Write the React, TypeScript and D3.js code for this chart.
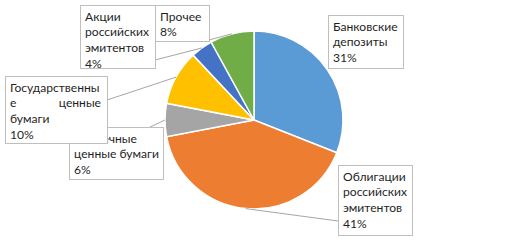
import React, { useEffect, useRef } from 'react';
import * as d3 from 'd3';

// Chart data
const categories = [
  'Банковские депозиты',
  'Облигации российских эмитентов',
  'Ипотечные ценные бумаги',
  'Государственные ценные бумаги',
  'Акции российских эмитентов',
  'Прочее',
];
const values = [31, 41, 6, 10, 4, 8];
const colors = ['#5B9BD5', '#ED7D31', '#A5A5A5', '#FFC000', '#4472C4', '#70AD47'];
// Label text as it wraps in the boxes ("|" = justified line)
const labelLines = [
  ['Банковские', 'депозиты', '31%'],
  ['Облигации', 'российских', 'эмитентов', '41%'],
  ['Ипотечные', 'ценные бумаги', '6%'],
  ['Государственны', 'е|ценные', 'бумаги', '10%'],
  ['Акции', 'российских', 'эмитентов', '4%'],
  ['Прочее', '8%'],
];

// label box layout: x, y, w, h, leader anchor on box
const boxes = [
  { x: 328, y: 15, w: 75, h: 53, ax: null, ay: null },
  { x: 338, y: 165, w: 74, h: 70, ax: 338, ay: 221 },
  { x: 69, y: 127, w: 94, h: 52, ax: 150, ay: 127 },
  { x: 5, y: 76, w: 102, h: 67, ax: 107, ay: 100 },
  { x: 80, y: 5, w: 75, h: 63, ax: 155, ay: 60 },
  { x: 155, y: 5, w: 54, h: 36, ax: 209, ay: 40 },
];

export default function App() {
  const ref = useRef<SVGSVGElement>(null);

  useEffect(() => {
    const width = 506;
    const height = 240;
    const cx = 254;
    const cy = 120;
    const r = 89;

    const svg = d3.select(ref.current);
    svg.selectAll('*').remove();
    svg.attr('width', width).attr('height', height);

    const pie = d3.pie<number>().sort(null).value(d => d)(values);
    const arc = d3.arc<d3.PieArcDatum<number>>().innerRadius(0).outerRadius(r);

    const g = svg.append('g').attr('transform', `translate(${cx},${cy})`);
    g.selectAll('path')
      .data(pie)
      .enter()
      .append('path')
      .attr('d', arc)
      .attr('fill', (d, i) => colors[i])
      .attr('stroke', '#fff')
      .attr('stroke-width', 1.5)
      .append('title')
      .text((d, i) => categories[i]);

    // leader lines from label box to the middle of the slice edge
    pie.forEach((p, i) => {
      const b = boxes[i];
      if (b.ax == null) return;
      const mid = (p.startAngle + p.endAngle) / 2;
      const px = cx + r * Math.sin(mid);
      const py = cy - r * Math.cos(mid);
      svg.append('line')
        .attr('x1', b.ax).attr('y1', b.ay)
        .attr('x2', px).attr('y2', py)
        .attr('stroke', '#A6A6A6')
        .attr('stroke-width', 1);
    });

    // labels (the Gov box is drawn after and covers the mortgage one)
    boxes.forEach((b, i) => {
      const lg = svg.append('g');
      lg.append('rect')
        .attr('x', b.x + 0.5).attr('y', b.y + 0.5)
        .attr('width', b.w).attr('height', b.h)
        .attr('fill', '#fff')
        .attr('stroke', '#BFBFBF');
      labelLines[i].forEach((line, k) => {
        const ty = b.y + 15.5 + k * 15.7;
        if (line.includes('|')) {
          const [a, c] = line.split('|');
          lg.append('text').attr('x', b.x + 5).attr('y', ty).text(a);
          lg.append('text').attr('x', b.x + b.w - 6).attr('y', ty)
            .attr('text-anchor', 'end').text(c);
        } else {
          lg.append('text').attr('x', b.x + 5).attr('y', ty).text(line);
        }
      });
      lg.selectAll('text')
        .attr('font-family', 'Lato, "Open Sans", sans-serif')
        .attr('font-size', 12.1)
        .attr('fill', '#1f1f1f');
    });
  }, []);

  return (
    <svg ref={ref} style={{ position: 'absolute', left: 0, top: 0, display: 'block' }}></svg>
  );
}
